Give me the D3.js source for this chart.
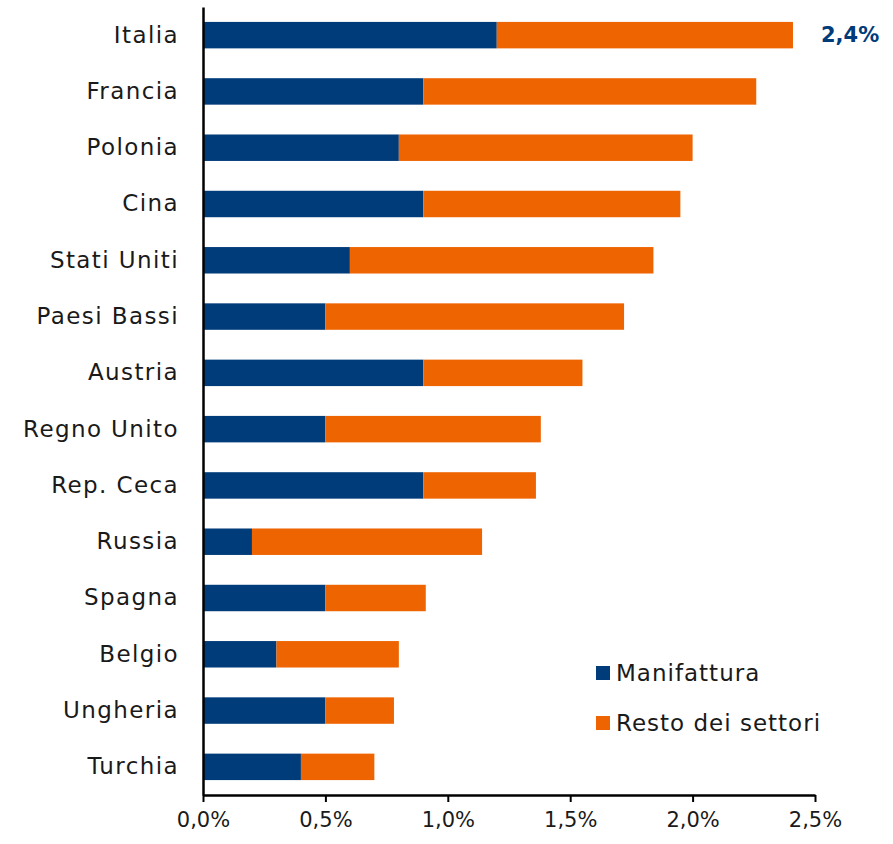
<!DOCTYPE html>
<html>
<head>
<meta charset="utf-8">
<script src="https://cdn.jsdelivr.net/npm/d3@7"></script>
<style>
  body { margin: 0; background: #fff; }
  text { font-family: "DejaVu Sans", sans-serif; fill: #1a1a1a; }
</style>
</head>
<body>
<div class="chart"></div>
<script>
const countries = ["Italia", "Francia", "Polonia", "Cina", "Stati Uniti", "Paesi Bassi", "Austria",
  "Regno Unito", "Rep. Ceca", "Russia", "Spagna", "Belgio", "Ungheria", "Turchia"];
const manifattura = [1.2, 0.9, 0.8, 0.9, 0.6, 0.5, 0.9, 0.5, 0.9, 0.2, 0.5, 0.3, 0.5, 0.4];
const resto = [1.21, 1.36, 1.2, 1.05, 1.24, 1.22, 0.65, 0.88, 0.46, 0.94, 0.41, 0.5, 0.28, 0.3];
const xTicks = [0, 0.5, 1.0, 1.5, 2.0, 2.5];
const seriesNames = ["Manifattura", "Resto dei settori"];
const colors = ["#003b7a", "#ee6400"];

const width = 893, height = 844;
const margin = {top: 7, right: 78, bottom: 49, left: 203};
const w = width - margin.left - margin.right;
const h = height - margin.top - margin.bottom;

const svg = d3.select(".chart").append("svg")
  .attr("width", width).attr("height", height);
const g = svg.append("g")
  .attr("transform", "translate(" + margin.left + "," + margin.top + ")");

const x = d3.scaleLinear().domain([0, 2.5]).range([0, w]);
const y = d3.scaleBand().domain(countries).range([0, h]).paddingInner(0.53).paddingOuter(0.265);

const data = countries.map((c, i) => ({country: c, m: manifattura[i], r: resto[i]}));

g.selectAll(".bm").data(data).enter().append("rect")
  .attr("x", 0)
  .attr("y", d => y(d.country))
  .attr("width", d => x(d.m))
  .attr("height", y.bandwidth())
  .attr("fill", colors[0]);

g.selectAll(".br").data(data).enter().append("rect")
  .attr("x", d => x(d.m))
  .attr("y", d => y(d.country))
  .attr("width", d => x(d.m + d.r) - x(d.m))
  .attr("height", y.bandwidth())
  .attr("fill", colors[1]);

// x axis
const xAxis = g.append("g")
  .attr("transform", "translate(0," + h + ")")
  .call(d3.axisBottom(x).tickValues(xTicks).tickSize(7).tickSizeOuter(0)
    .tickFormat(d => d.toFixed(1).replace(".", ",") + "%"));
xAxis.select(".domain").attr("stroke", "#000").attr("stroke-width", 2.5);
xAxis.selectAll(".tick line").attr("stroke", "#000").attr("stroke-width", 2);
xAxis.selectAll(".tick text").attr("font-size", 21).attr("dy", "1.05em")
  .style("font-family", "DejaVu Sans, sans-serif").attr("fill", "#1a1a1a");

// y axis
const yAxis = g.append("g")
  .call(d3.axisLeft(y).tickSize(0).tickPadding(24));
yAxis.select(".domain").attr("stroke", "#000").attr("stroke-width", 2.5);
yAxis.selectAll(".tick text").attr("font-size", 23).style("letter-spacing", "1.4px")
  .style("font-family", "DejaVu Sans, sans-serif").attr("fill", "#1a1a1a");

// total label for Italia
const first = data[0];
g.append("text")
  .attr("x", x(first.m + first.r) + 28)
  .attr("y", y(first.country) + y.bandwidth() / 2)
  .attr("dy", "0.35em")
  .attr("font-size", 21)
  .attr("font-weight", "bold")
  .style("fill", colors[0])
  .text((first.m + first.r).toFixed(1).replace(".", ",") + "%");

// legend
const legend = svg.append("g").attr("transform", "translate(596,673)");
seriesNames.forEach((name, i) => {
  const row = legend.append("g").attr("transform", "translate(0," + (i * 50) + ")");
  row.append("rect").attr("x", 0).attr("y", -7).attr("width", 14).attr("height", 14).attr("fill", colors[i]);
  row.append("text").attr("x", 20).attr("y", 0).attr("dy", "0.35em")
    .attr("font-size", 23).style("letter-spacing", "1px").text(name);
});
</script>
</body>
</html>
